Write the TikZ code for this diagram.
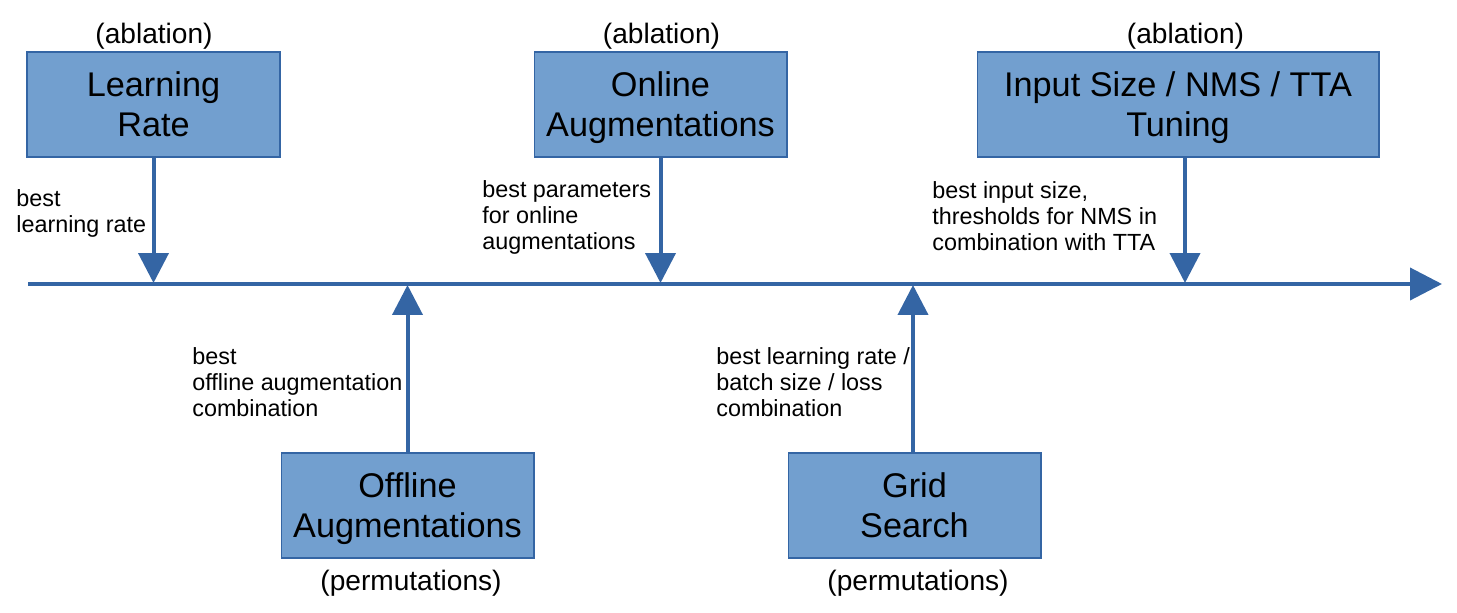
\documentclass[tikz,border=0pt]{standalone}
\usepackage{fontspec}
\setmainfont{Liberation Sans}
\usetikzlibrary{arrows.meta}
\definecolor{boxfill}{HTML}{729FCF}
\definecolor{boxline}{HTML}{3465A4}
\tikzset{
  box/.style={draw=boxline,fill=boxfill,line width=0.6pt,align=center,inner sep=0pt,minimum width=5.06cm,minimum height=2.1cm,text height=41pt,text depth=4.5pt,font=\fontsize{19.5}{22.7}\selectfont},
  note/.style={align=left,anchor=base west,inner sep=0pt,font=\fontsize{13.3}{14.7}\selectfont},
  tag/.style={anchor=base,inner sep=0pt,font=\fontsize{16}{19}\selectfont},
  arr/.style={-{Triangle[length=0.6cm,width=0.6cm]},line width=0.08cm,draw=boxline},
}

\begin{document}
\begin{tikzpicture}[x=0.02cm,y=-0.02cm]
\useasboundingbox (0,0) rectangle (1457,612);
% time line
\coordinate (start) at (28,284);
\coordinate (end) at (1442,284);
\draw[boxline,line width=0.08cm,-{Triangle[length=0.64cm,width=0.64cm]}] (start)--(end);
\coordinate (t1) at (153.5,283);
\coordinate (t2) at (407.5,285);
\coordinate (t3) at (660.5,283);
\coordinate (t4) at (913,285);
\coordinate (t5) at (1185,283);
% stages
\node[box] (lr) at (153.5,104.5) {Learning\\Rate};
\node[box] (onl) at (660.5,104.5) {Online\\Augmentations};
\node[box,minimum width=8.04cm] (tune) at (1178,104.5) {Input Size / NMS / TTA\\Tuning};
\node[box] (off) at (407.5,505.5) {Offline\\Augmentations};
\node[box] (grid) at (914.5,505.5) {Grid\\Search};
\node[tag] (a1) at (154,43) {(ablation)};
\node[tag] (a2) at (661.5,43) {(ablation)};
\node[tag] (a3) at (1185.5,43) {(ablation)};
\node[tag] (p1) at (411,590) {(permutations)};
\node[tag] (p2) at (918,590) {(permutations)};
% results (base = last line)
\draw[arr] (lr.south -| t1)--(t1);
\draw[arr] (onl.south -| t3)--(t3);
\draw[arr] (tune.south -| t5)--(t5);
\draw[arr] (off.north -| t2)--(t2);
\draw[arr] (grid.north -| t4)--(t4);
\node[note] (n1) at (16,232.7) {best\\learning rate};
\node[note] (n2) at (482,249) {best parameters\\for online\\augmentations};
\node[note] (n3) at (932,250) {best input size,\\thresholds for NMS in\\combination with TTA};
\node[note] (n4) at (192,416) {best\\offline augmentation\\combination};
\node[note] (n5) at (716,416) {best learning rate /\\batch size / loss\\combination};
\end{tikzpicture}
\end{document}
